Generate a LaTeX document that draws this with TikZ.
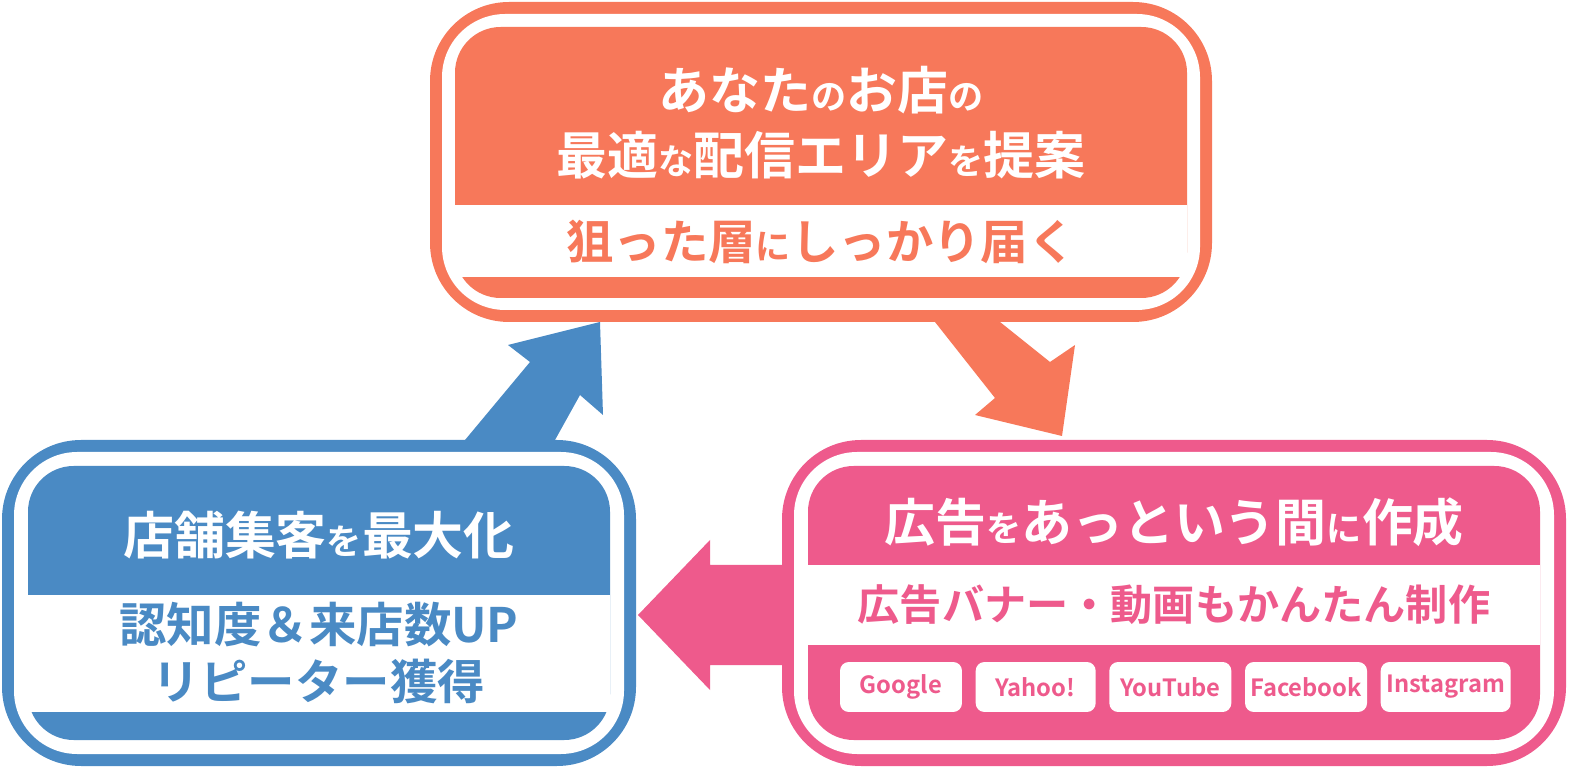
\documentclass[tikz,border=0pt]{standalone}
\usepackage{fontspec}
\newfontfamily\jp{Noto Sans CJK JP Bold}
\setmainfont{Noto Sans CJK JP Bold}
\definecolor{orange}{RGB}{247, 120, 90}
\definecolor{pink}{RGB}{238, 90, 140}
\definecolor{blue}{RGB}{74, 138, 196}
\usetikzlibrary{positioning}
\tikzset{
    outer/.style = {rounded corners=45, inner sep=0},
    ring/.style = {fill=white, rounded corners=36},
    inner/.style = {rounded corners=26},
    head/.style = {text=white, font=\jp\fontsize{29}{40}\selectfont, align=center},
    band/.style = {font=\jp\fontsize{27}{34}\selectfont, align=center},
    pill/.style = {fill=white, rounded corners=5, minimum width=2.3cm,
      minimum height=1cm, inner sep=1pt, text=pink, font=\jp\fontsize{13.5}{15}\selectfont},
}
\newcommand{\sm}[1]{{\fontsize{20}{20}\selectfont #1}}
\begin{document}
\begin{tikzpicture}[x=0.02cm, y=-0.02cm]
      \useasboundingbox (0,0) rectangle (1586,776);

      % arrows
      \fill[orange] (935,322) -- (995,398) -- (975,415) -- (1062,436)
        -- (1075,345) -- (1050,362) -- (1000,322) -- cycle;
      \fill[pink] (784,565) -- (710,565) -- (710,540) -- (638,615)
        -- (710,690) -- (710,665) -- (784,665) -- cycle;
      \fill[blue] (465,440) -- (530,362) -- (508,345) -- (600,322)
        -- (603,415) -- (580,395) -- (555,440) -- cycle;

      % top box
      \fill[orange, outer] (430,2) rectangle (1212,322);
      \fill[ring] (442,14) rectangle (1200,310);
      \fill[orange, inner] (455,27) rectangle (1187,298);
      \fill[white] (455,205) rectangle (1187,277);
      \node[head] (shop) at (821,90) {あなた\sm{の}お店\sm{の}};
      \node[head] (area) at (821,155) {最適\sm{な}配信エリア\sm{を}提案};
      \node[band, text=orange] (reach) at (821,242) {狙った層\sm{に}しっかり届く};

      % right box
      \fill[pink, outer] (782,440) rectangle (1566,766);
      \fill[ring] (794,452) rectangle (1554,754);
      \fill[pink, inner] (808,466) rectangle (1540,740);
      \fill[white] (808,565) rectangle (1540,645);
      \node[head] (make) at (1174,522) {広告\sm{を}あっという間\sm{に}作成};
      \node[band, text=pink, font=\jp\fontsize{24}{30}\selectfont] (banner) at (1174,605)
        {広告バナー・動画もかんたん制作};
      \node[pill, minimum width=2.44cm] (google) at (901,687) {Google};
      \node[pill, right=0.26cm of google, minimum width=2.4cm] (yahoo) {Yahoo!};
      \node[pill, right=0.26cm of yahoo, minimum width=2.44cm] (youtube) {YouTube};
      \node[pill, right=0.26cm of youtube, minimum width=2.44cm] (facebook) {Facebook};
      \node[pill, right=0.26cm of facebook, minimum width=2.6cm] (instagram) {Instagram};

      % left box
      \fill[blue, outer] (2,440) rectangle (636,766);
      \fill[ring] (14,452) rectangle (624,754);
      \fill[blue, inner] (28,466) rectangle (610,740);
      \fill[white] (28,595) rectangle (610,712);
      \node[head] (max) at (319,535) {店舗集客\sm{を}最大化};
      \node[band, text=blue, font=\jp\fontsize{27}{32}\selectfont] (up) at (319,653)
        {認知度＆来店数UP\\リピーター獲得};
\end{tikzpicture}
\end{document}
